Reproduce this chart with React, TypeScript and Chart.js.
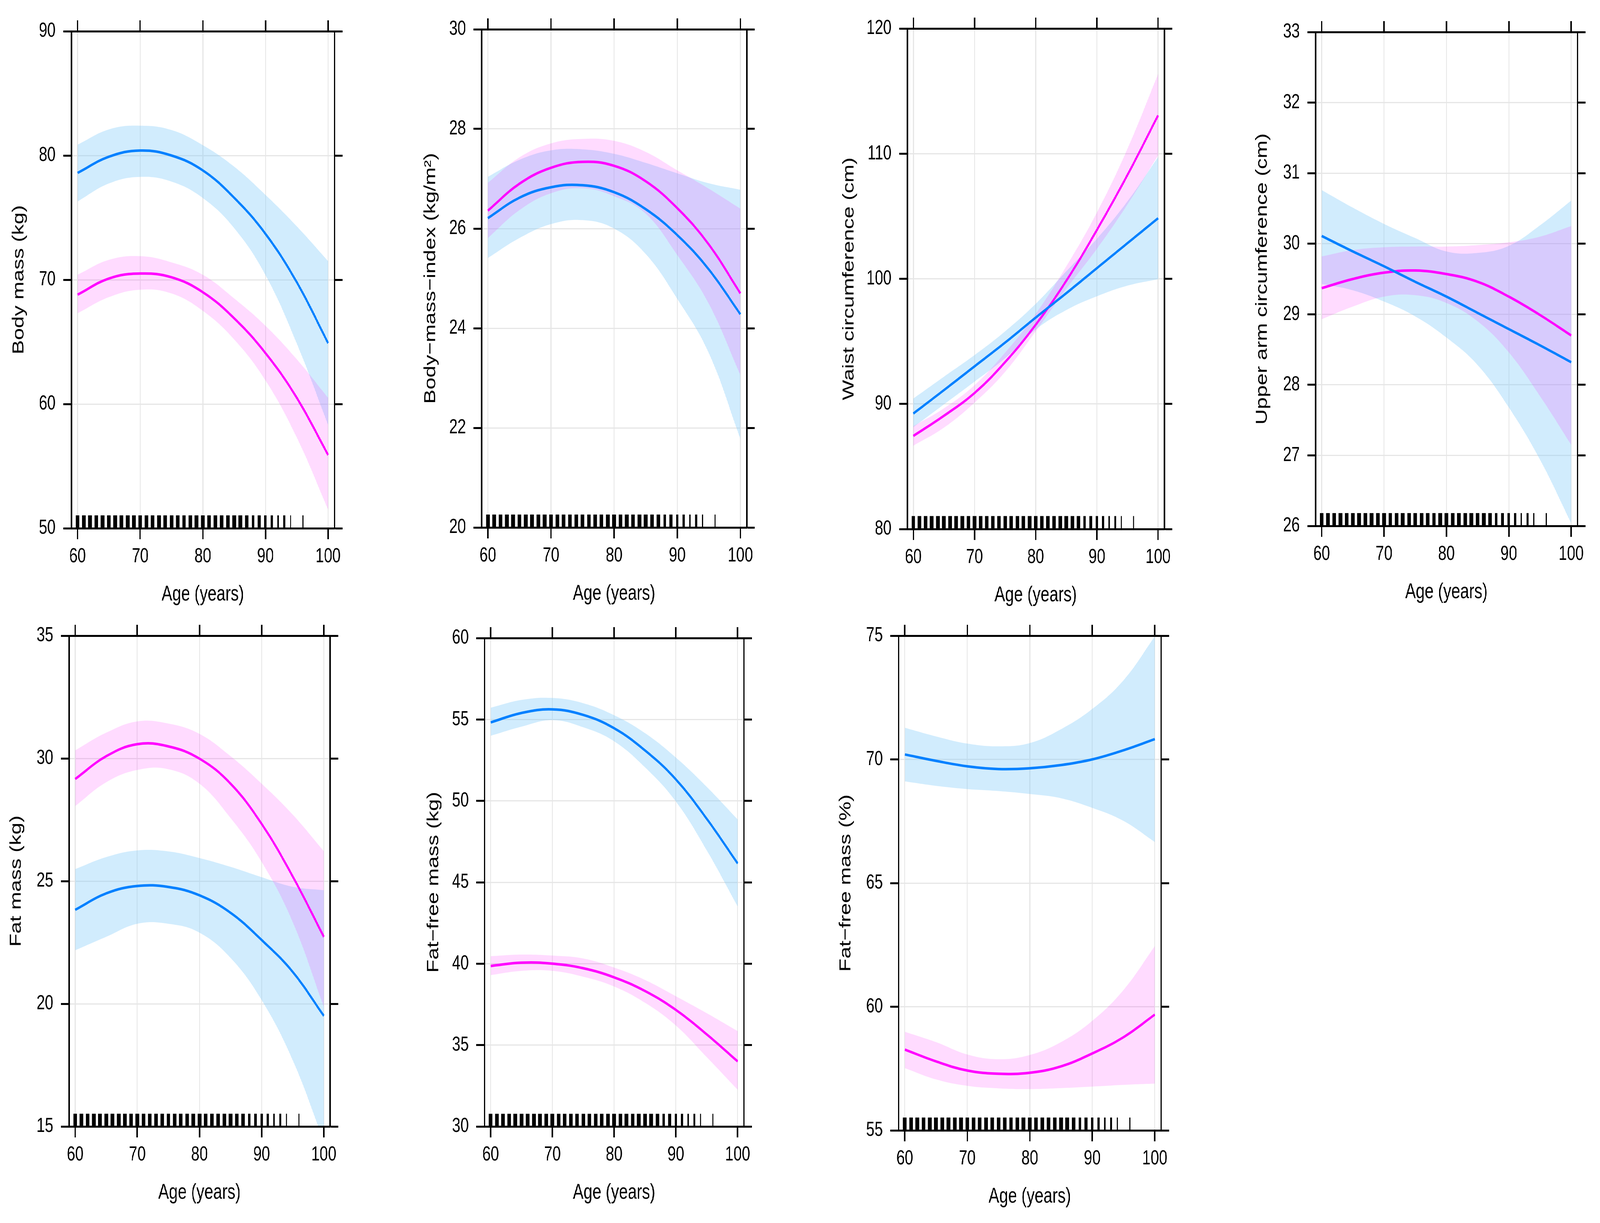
import { useEffect, useRef } from "react";
import { Chart, registerables } from "chart.js";

Chart.register(...registerables);

const AGES = [60, 65, 70, 75, 80, 85, 90, 95, 100];
const X_TICKS = [60, 70, 80, 90, 100];
const X_MIN = 59;
const X_MAX = 101;

// body mass (kg)
const MASS_M = [78.6, 79.9, 80.4, 80.0, 78.8, 76.6, 73.7, 69.8, 64.9];
const MASS_M_LO = [76.3, 77.75, 78.28, 77.9, 76.58, 74.16, 70.38, 64.87, 58.32];
const MASS_M_HI = [80.87, 82.1, 82.4, 82.05, 80.83, 79.1, 76.83, 74.3, 71.5];
const MASS_F = [68.8, 70.1, 70.5, 70.2, 69.0, 66.9, 64.1, 60.5, 55.9];
const MASS_F_LO = [67.3, 68.6, 69.2, 68.9, 67.5, 65.2, 61.9, 57.3, 51.5];
const MASS_F_HI = [70.4, 71.6, 71.9, 71.4, 70.4, 68.5, 66.3, 63.6, 60.5];

// body mass index
const BMI_M = [26.21, 26.62, 26.83, 26.87, 26.73, 26.39, 25.87, 25.18, 24.28];
const BMI_M_LO = [25.41, 25.81, 26.09, 26.17, 26.0, 25.49, 24.59, 23.5, 21.78];
const BMI_M_HI = [27.04, 27.38, 27.57, 27.59, 27.5, 27.32, 27.11, 26.91, 26.78];
const BMI_F = [26.36, 26.9, 27.22, 27.34, 27.26, 26.95, 26.41, 25.68, 24.7];
const BMI_F_LO = [25.81, 26.37, 26.71, 26.81, 26.65, 26.3, 25.47, 24.49, 23.06];
const BMI_F_HI = [26.92, 27.43, 27.71, 27.8, 27.76, 27.54, 27.17, 26.8, 26.4];

// waist circumference (cm)
const WAIST_M = [89.23, 91.1, 93.0, 94.9, 96.9, 98.85, 100.85, 102.85, 104.84];
const WAIST_M_LO = [88.14, 89.96, 91.78, 93.65, 95.94, 97.5, 98.6, 99.45, 99.97];
const WAIST_M_HI = [90.43, 92.17, 93.9, 95.8, 98.0, 100.6, 103.2, 106.2, 109.73];
const WAIST_F = [87.44, 89.05, 90.87, 93.34, 96.33, 99.84, 103.9, 108.3, 113.06];
const WAIST_F_LO = [86.66, 88.1, 90.1, 92.56, 95.8, 99.2, 102.4, 105.95, 109.86];
const WAIST_F_HI = [88.22, 89.65, 91.5, 94.1, 97.2, 101.0, 105.3, 110.4, 116.36];

// upper arm circumference (cm)
const ARM_M = [30.11, 29.89, 29.68, 29.46, 29.25, 29.02, 28.79, 28.56, 28.32];
const ARM_M_LO = [29.43, 29.34, 29.18, 28.97, 28.67, 28.28, 27.68, 26.94, 26.04];
const ARM_M_HI = [30.76, 30.51, 30.28, 30.08, 29.89, 29.87, 29.97, 30.26, 30.61];
const ARM_F = [29.37, 29.5, 29.59, 29.62, 29.57, 29.46, 29.25, 28.99, 28.7];
const ARM_F_LO = [28.93, 29.11, 29.25, 29.27, 29.16, 28.9, 28.46, 27.84, 27.15];
const ARM_F_HI = [29.82, 29.91, 29.95, 29.96, 29.96, 29.98, 30.02, 30.1, 30.25];

// fat mass (kg)
const FAT_M = [23.83, 24.5, 24.8, 24.76, 24.42, 23.71, 22.6, 21.3, 19.51];
const FAT_M_LO = [22.18, 22.73, 23.26, 23.26, 22.9, 21.87, 20.15, 17.7, 14.4];
const FAT_M_HI = [25.49, 25.98, 26.25, 26.21, 25.94, 25.58, 25.16, 24.77, 24.63];
const FAT_F = [29.16, 30.09, 30.58, 30.49, 29.99, 28.97, 27.33, 25.19, 22.73];
const FAT_F_LO = [28.06, 29.03, 29.53, 29.56, 28.97, 27.57, 25.78, 23.33, 19.88];
const FAT_F_HI = [30.33, 31.05, 31.51, 31.42, 31.0, 30.09, 28.97, 27.71, 26.22];

// fat-free mass (kg)
const FFM_M = [54.82, 55.4, 55.62, 55.28, 54.46, 53.1, 51.32, 48.9, 46.16];
const FFM_M_LO = [54.0, 54.56, 54.96, 54.52, 53.66, 52.06, 49.96, 46.96, 43.52];
const FFM_M_HI = [55.72, 56.2, 56.32, 56.0, 55.26, 54.16, 52.66, 50.86, 48.86];
const FFM_F = [39.86, 40.06, 40.0, 39.72, 39.16, 38.32, 37.16, 35.66, 34.0];
const FFM_F_LO = [39.3, 39.56, 39.56, 39.2, 38.6, 37.6, 36.2, 34.26, 32.26];
const FFM_F_HI = [40.46, 40.56, 40.5, 40.32, 39.76, 39.0, 38.0, 36.96, 35.86];

// fat-free mass (%)
const FFP_M = [70.2, 69.94, 69.72, 69.61, 69.64, 69.77, 70.0, 70.37, 70.82];
const FFP_M_LO = [69.11, 68.93, 68.8, 68.72, 68.6, 68.43, 68.04, 67.51, 66.66];
const FFP_M_HI = [71.28, 70.93, 70.64, 70.53, 70.66, 71.22, 72.04, 73.2, 74.97];
const FFP_F = [58.27, 57.79, 57.42, 57.29, 57.33, 57.59, 58.11, 58.77, 59.68];
const FFP_F_LO = [57.52, 57.06, 56.8, 56.7, 56.67, 56.71, 56.77, 56.84, 56.89];
const FFP_F_HI = [58.99, 58.57, 58.07, 57.88, 58.05, 58.57, 59.43, 60.68, 62.45];

// rug of observed ages (same sample in every panel), spread = width of the cluster in years
const RUG_AGES = [
  60, 61, 62, 63, 64, 65, 66, 67, 68, 69, 70, 71, 72, 73, 74, 75, 76, 77, 78, 79,
  80, 81, 82, 83, 84, 85, 86, 87, 88, 89, 90, 91, 92, 93, 94, 96,
];
const RUG_SPREAD = [
  0.58, 0.58, 0.6, 0.6, 0.6, 0.6, 0.6, 0.6, 0.6, 0.6, 0.6, 0.56, 0.56, 0.6, 0.56, 0.56, 0.56, 0.56, 0.56, 0.6,
  0.6, 0.56, 0.6, 0.56, 0.6, 0.6, 0.6, 0.56, 0.38, 0.46, 0.38, 0.36, 0.23, 0.31, 0.15, 0.15,
];

const MALE = "#0080ff";
const FEMALE = "#ff00ff";
const MALE_BAND = "rgba(135,206,250,0.38)";
const FEMALE_BAND = "rgba(255,0,255,0.14)";
const GRID = "#e6e6e6";
const FONT = "'Liberation Sans', Arial, Helvetica, sans-serif";

// the reference canvas, in its own pixels
const VIEW_W = 5522;
const VIEW_H = 3130;

const TOP_H = 70;
const RIGHT_W = 60;
const BOTTOM_H = 215;
const TICK_LEN = 28;
const RUG_FRAC = 0.013; // half the rug height, as a share of the y range

interface Frame {
  l: number;
  t: number;
  r: number;
  b: number;
}

interface PanelSpec {
  title: string;
  yTicks: number[];
  m: number[];
  mLo: number[];
  mHi: number[];
  f: number[];
  fLo: number[];
  fHi: number[];
  frame: Frame;
  titleGap: number;
}

const PANELS: PanelSpec[] = [
  {
    title: "Body mass (kg)",
    yTicks: [50, 60, 70, 80, 90],
    m: MASS_M, mLo: MASS_M_LO, mHi: MASS_M_HI,
    f: MASS_F, fLo: MASS_F_LO, fHi: MASS_F_HI,
    frame: { l: 246, t: 80, r: 1154, b: 1352 },
    titleGap: 180,
  },
  {
    title: "Body\u2212mass\u2212index (kg/m\u00b2)",
    yTicks: [20, 22, 24, 26, 28, 30],
    m: BMI_M, mLo: BMI_M_LO, mHi: BMI_M_HI,
    f: BMI_F, fLo: BMI_F_LO, fHi: BMI_F_HI,
    frame: { l: 1662, t: 75, r: 2577, b: 1350 },
    titleGap: 175,
  },
  {
    title: "Waist circumference (cm)",
    yTicks: [80, 90, 100, 110, 120],
    m: WAIST_M, mLo: WAIST_M_LO, mHi: WAIST_M_HI,
    f: WAIST_F, fLo: WAIST_F_LO, fHi: WAIST_F_HI,
    frame: { l: 3131, t: 73, r: 4018, b: 1354 },
    titleGap: 200,
  },
  {
    title: "Upper arm circumference (cm)",
    yTicks: [26, 27, 28, 29, 30, 31, 32, 33],
    m: ARM_M, mLo: ARM_M_LO, mHi: ARM_M_HI,
    f: ARM_F, fLo: ARM_F_LO, fHi: ARM_F_HI,
    frame: { l: 4540, t: 82, r: 5444, b: 1346 },
    titleGap: 183,
  },
  {
    title: "Fat mass (kg)",
    yTicks: [15, 20, 25, 30, 35],
    m: FAT_M, mLo: FAT_M_LO, mHi: FAT_M_HI,
    f: FAT_F, fLo: FAT_F_LO, fHi: FAT_F_HI,
    frame: { l: 238, t: 1627, r: 1139, b: 2883 },
    titleGap: 181,
  },
  {
    title: "Fat\u2212free mass (kg)",
    yTicks: [30, 35, 40, 45, 50, 55, 60],
    m: FFM_M, mLo: FFM_M_LO, mHi: FFM_M_HI,
    f: FFM_F, fLo: FFM_F_LO, fHi: FFM_F_HI,
    frame: { l: 1672, t: 1633, r: 2567, b: 2883 },
    titleGap: 175,
  },
  {
    title: "Fat\u2212free mass (%)",
    yTicks: [55, 60, 65, 70, 75],
    m: FFP_M, mLo: FFP_M_LO, mHi: FFP_M_HI,
    f: FFP_F, fLo: FFP_F_LO, fHi: FFP_F_HI,
    frame: { l: 3101, t: 1627, r: 4007, b: 2893 },
    titleGap: 181,
  },
];

const pts = (vals: number[]) => AGES.map((x, i) => ({ x, y: vals[i] }));

function Panel({ spec }: { spec: PanelSpec }) {
  const canvasRef = useRef<HTMLCanvasElement>(null);
  const leftW = spec.titleGap + 60;
  const { l, t, r, b } = spec.frame;

  useEffect(() => {
    if (!canvasRef.current) return;
    const yMin = spec.yTicks[0];
    const yMax = spec.yTicks[spec.yTicks.length - 1];
    const rugY = yMin + (yMax - yMin) * RUG_FRAC;

    const tickFont = { family: FONT, size: 52 };
    const titleFont = { family: FONT, size: 55 };
    const frameBorder = { display: true, color: "#000", width: 5, z: 1 };
    const tickGrid = { color: GRID, lineWidth: 3, tickColor: "#000", tickWidth: 5, tickLength: TICK_LEN };
    const xTicks = (s: any) => {
      s.ticks = X_TICKS.map((value) => ({ value }));
    };
    const yTicks = (s: any) => {
      s.ticks = spec.yTicks.map((value) => ({ value }));
    };

    const curve = (vals: number[], color: string) => ({
      data: pts(vals),
      borderColor: color,
      borderWidth: 6.5,
      pointRadius: 0,
      fill: false,
      order: 0,
      tension: 0.4,
    });
    const edge = (vals: number[], fill: any, color: string, order: number) => ({
      data: pts(vals),
      borderColor: "transparent",
      borderWidth: 0,
      backgroundColor: color,
      pointRadius: 0,
      fill,
      order,
      tension: 0.4,
    });

    const chart = new Chart(canvasRef.current, {
      type: "line",
      data: {
        datasets: [
          curve(spec.m, MALE),
          curve(spec.f, FEMALE),
          {
            data: RUG_AGES.map((x) => ({ x, y: rugY })),
            showLine: false,
            order: 0,
            pointStyle: "line",
            pointRotation: 90,
            pointBorderColor: "#000",
            pointBackgroundColor: "#000",
            pointRadius: (ctx: any) => {
              const s = ctx.chart.scales.y;
              return s.getPixelForValue(yMin) - s.getPixelForValue(rugY);
            },
            pointBorderWidth: (ctx: any) => {
              const s = ctx.chart.scales.x;
              const perYear = (s.getPixelForValue(X_MAX) - s.getPixelForValue(X_MIN)) / (X_MAX - X_MIN);
              return Math.max(3.5, RUG_SPREAD[ctx.dataIndex] * perYear);
            },
          } as any,
          edge(spec.mLo, false, MALE_BAND, 2),
          edge(spec.mHi, "-1", MALE_BAND, 2),
          edge(spec.fLo, false, FEMALE_BAND, 1),
          edge(spec.fHi, "-1", FEMALE_BAND, 1),
        ],
      },
      options: {
        responsive: true,
        maintainAspectRatio: false,
        animation: false,
        events: [],
        layout: { padding: 0 },
        plugins: { legend: { display: false }, tooltip: { enabled: false } },
        scales: {
          x: {
            type: "linear",
            position: "bottom",
            min: X_MIN,
            max: X_MAX,
            afterBuildTicks: xTicks,
            afterFit: (s: any) => {
              s.height = BOTTOM_H;
            },
            ticks: { font: tickFont, color: "#000", padding: 13, maxRotation: 0, autoSkip: false, callback: (v: any) => String(v) },
            grid: tickGrid,
            border: frameBorder,
            title: { display: true, text: "Age (years)", font: titleFont, color: "#000", padding: { top: 0, bottom: 12 } },
          },
          xTop: {
            type: "linear",
            axis: "x",
            position: "top",
            min: X_MIN,
            max: X_MAX,
            afterBuildTicks: xTicks,
            afterFit: (s: any) => {
              s.height = TOP_H;
            },
            ticks: { display: false },
            grid: { ...tickGrid, drawOnChartArea: false },
            border: frameBorder,
          },
          y: {
            type: "linear",
            position: "left",
            min: yMin,
            max: yMax,
            afterBuildTicks: yTicks,
            afterFit: (s: any) => {
              s.width = leftW;
            },
            ticks: { font: tickFont, color: "#000", padding: 26, autoSkip: false, callback: (v: any) => String(v) },
            grid: tickGrid,
            border: frameBorder,
            title: { display: true, text: spec.title, font: titleFont, color: "#000", padding: { top: 27, bottom: 0 } },
          },
          yRight: {
            type: "linear",
            axis: "y",
            position: "right",
            min: yMin,
            max: yMax,
            afterBuildTicks: yTicks,
            afterFit: (s: any) => {
              s.width = RIGHT_W;
            },
            ticks: { display: false },
            grid: { ...tickGrid, drawOnChartArea: false },
            border: frameBorder,
          },
        } as any,
      },
    });
    return () => chart.destroy();
  }, [spec, leftW]);

  return (
    <div
      style={{
        position: "absolute",
        left: l - leftW,
        top: t - TOP_H,
        width: leftW + (r - l) + RIGHT_W,
        height: TOP_H + (b - t) + BOTTOM_H,
      }}
    >
      <canvas ref={canvasRef} />
    </div>
  );
}

export default function App() {
  // lay the panels out in reference pixels, then stretch that sheet over the whole window
  document.documentElement.style.overflow = "hidden";
  document.body.style.margin = "0";
  const sx = window.innerWidth / VIEW_W;
  const sy = window.innerHeight / VIEW_H;

  return (
    <div
      style={{
        position: "relative",
        width: window.innerWidth,
        height: window.innerHeight,
        overflow: "hidden",
        background: "#fff",
      }}
    >
      <div
        style={{
          position: "absolute",
          left: 0,
          top: 0,
          width: VIEW_W,
          height: VIEW_H,
          transform: `scale(${sx}, ${sy})`,
          transformOrigin: "0 0",
        }}
      >
        {PANELS.map((p) => (
          <Panel key={p.title} spec={p} />
        ))}
      </div>
    </div>
  );
}
